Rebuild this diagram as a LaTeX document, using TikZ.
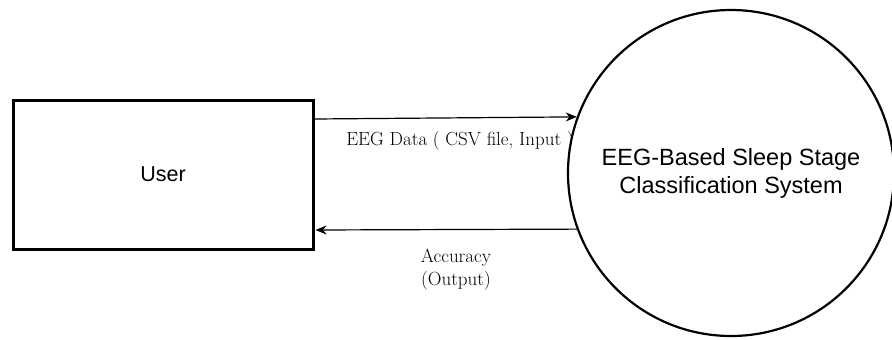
\documentclass[tikz,border=0pt]{standalone}
\usepackage{fontspec}
\newfontfamily\arialfont{Liberation Sans}
\usetikzlibrary{arrows.meta}
\begin{document}
\begin{tikzpicture}[x=1pt,y=-1pt,
  entity/.style={draw,line width=3pt,minimum width=300pt,minimum height=149pt,inner sep=0pt,font=\arialfont\fontsize{21.5}{25}\selectfont},
  process/.style={draw,circle,line width=2.2pt,minimum size=326pt,inner sep=0pt,align=center,font=\arialfont\fontsize{23.5}{28}\selectfont},
  flow/.style={line width=1.2pt,-{Stealth[length=11pt,width=9pt]}},
  lbl/.style={font=\fontsize{19}{23}\selectfont,align=center,inner sep=0pt}]
\useasboundingbox (0,0) rectangle (892,340);
\begin{scope}
\clip (0,0) rectangle (892,340);
\node[entity] (user) at (163,174.5) {User};
\node[process] (sys) at (731,173) {EEG-Based Sleep Stage\\Classification System};
\end{scope}
\coordinate (a1) at (user.east |- 0,119);
\coordinate (b2) at (user.east |- 0,230);
\draw[flow] (a1) -- (sys.160.65);
\draw[flow] (sys.200.47) -- ([xshift=1pt]b2);
\node[lbl] (l1) at (460,141) {EEG Data ( CSV file, Input )};
\node[lbl] (l2) at (456,270) {Accuracy\\(Output)};
\end{tikzpicture}
\end{document}
